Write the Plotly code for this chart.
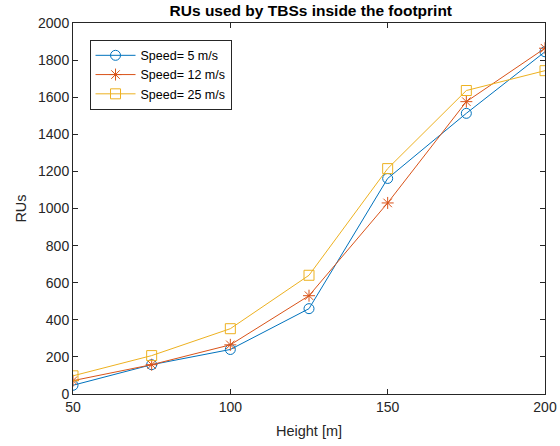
import plotly.graph_objects as go

heights = [50, 75, 100, 125, 150, 175, 200]
speed5 = [47, 158, 240, 460, 1162, 1513, 1845]
speed12 = [72, 158, 265, 530, 1030, 1576, 1864]
speed25 = [98, 207, 352, 640, 1215, 1636, 1743]
names = ["Speed= 5 m/s", "Speed= 12 m/s", "Speed= 25 m/s"]
colors = ["#0072BD", "#D95319", "#EDB120"]
symbols = ["circle-open", "asterisk-open", "square-open"]

fig = go.Figure()
for y, n, c, s in zip([speed5, speed12, speed25], names, colors, symbols):
    fig.add_trace(go.Scatter(
        x=heights, y=y, name=n, mode="lines+markers",
        line=dict(color=c, width=1),
        marker=dict(symbol=s, size=10, color=c, line=dict(color=c, width=1)),
    ))

axis_common = dict(
    showline=True, linecolor="#262626", linewidth=1, mirror="ticks",
    ticks="inside", ticklen=5, tickcolor="#262626", showgrid=False,
    zeroline=False, tickfont=dict(size=14, color="#262626"), automargin=False,
)
fig.update_layout(
    width=560, height=446,
    margin=dict(l=73, r=15, t=23, b=52),
    paper_bgcolor="white", plot_bgcolor="white",
    font=dict(family="Liberation Sans, Arial, sans-serif", color="#262626"),
    title=dict(text="<b>RUs used by TBSs inside the footprint</b>", x=0.555, xanchor="center",
               y=0.988, yanchor="top", font=dict(size=15.5, color="#000000")),
    xaxis=dict(range=[50, 200], dtick=50, tick0=50,
               title=dict(text="Height [m]", font=dict(size=14.5), standoff=12), **axis_common),
    yaxis=dict(range=[0, 2000], dtick=200,
               title=dict(text="RUs", font=dict(size=14.5), standoff=7), **axis_common),
    legend=dict(x=0.035, y=0.955, xanchor="left", yanchor="top",
                bgcolor="white", bordercolor="#262626", borderwidth=1,
                font=dict(size=12.5, color="#000000"), tracegroupgap=0,
                itemwidth=40),
    showlegend=True,
)
fig.write_html("out.html")
